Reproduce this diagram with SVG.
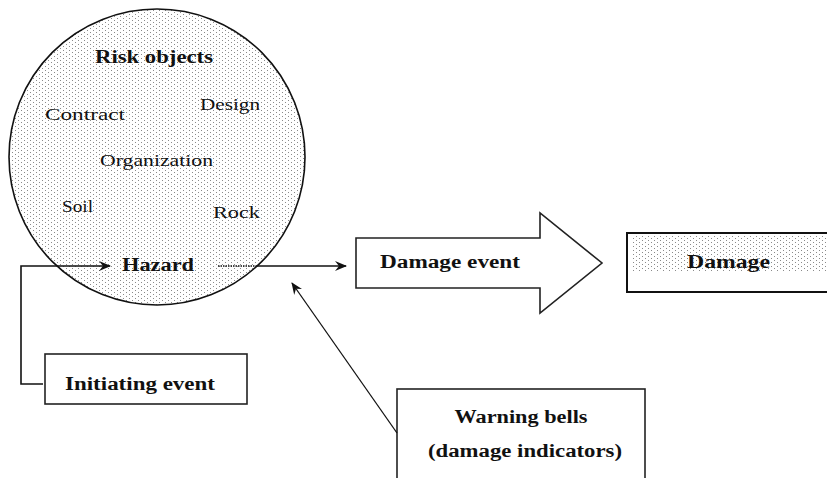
<svg xmlns="http://www.w3.org/2000/svg" width="827" height="478" viewBox="0 0 827 478">
  <style>
    text { font-family: "Liberation Serif", "DejaVu Serif", serif; fill: #111; }
    .b { font-weight: bold; }
    .box { fill: #fff; stroke: #222; stroke-width: 1.6; }
    .wire { fill: none; stroke: #111; stroke-width: 1.6; }
    .thin { fill: none; stroke: #111; stroke-width: 1.3; }
  </style>
  <defs>
    <pattern id="stipple" width="6" height="4" patternUnits="userSpaceOnUse">
      <rect width="6" height="4" fill="#fff"/>
      <rect x="0" y="0" width="1" height="1" fill="#8a8a8a"/>
      <rect x="3" y="2" width="1" height="1" fill="#8a8a8a"/>
    </pattern>
    <marker id="head" viewBox="0 0 12 10" refX="11" refY="5" markerWidth="12" markerHeight="10" markerUnits="userSpaceOnUse" orient="auto">
      <path d="M0,0 L12,5 L0,10 L4,5 Z" fill="#111"/>
    </marker>
  </defs>

  <!-- risk object cloud -->
  <g id="risk-objects">
    <circle cx="157" cy="157" r="148" fill="url(#stipple)" stroke="#111" stroke-width="1.6"/>
    <text class="b" x="95" y="63" font-size="18" textLength="118" lengthAdjust="spacingAndGlyphs">Risk objects</text>
    <text x="45" y="120" font-size="17" textLength="80" lengthAdjust="spacingAndGlyphs">Contract</text>
    <text x="200" y="110" font-size="17" textLength="60" lengthAdjust="spacingAndGlyphs">Design</text>
    <text x="100" y="166" font-size="17" textLength="113" lengthAdjust="spacingAndGlyphs">Organization</text>
    <text x="62" y="212" font-size="17" textLength="31" lengthAdjust="spacingAndGlyphs">Soil</text>
    <text x="213" y="218" font-size="17" textLength="47" lengthAdjust="spacingAndGlyphs">Rock</text>
  </g>

  <g id="hazard">
    <text class="b" x="122" y="271" font-size="18" textLength="72" lengthAdjust="spacingAndGlyphs">Hazard</text>
  </g>

  <g id="initiating-event">
    <rect class="box" x="45" y="354" width="202" height="50"/>
    <text class="b" x="65" y="390" font-size="18" textLength="150" lengthAdjust="spacingAndGlyphs">Initiating event</text>
  </g>

  <g id="damage-event">
    <path class="box" d="M356,238 L540,238 L540,213 L602,263 L540,313 L540,288 L356,288 Z"/>
    <text class="b" x="380" y="268" font-size="18" textLength="140" lengthAdjust="spacingAndGlyphs">Damage event</text>
  </g>

  <g id="damage">
    <rect x="627" y="233" width="210" height="59" fill="#fff" stroke="#111" stroke-width="2"/>
    <rect x="632" y="236" width="200" height="36" fill="url(#stipple)"/>
    <text class="b" x="687" y="268" font-size="18" textLength="83" lengthAdjust="spacingAndGlyphs">Damage</text>
  </g>

  <g id="warning-bells">
    <rect class="box" x="397" y="389" width="248" height="100"/>
    <text class="b" x="521" y="423" font-size="18" text-anchor="middle" textLength="133" lengthAdjust="spacingAndGlyphs">Warning bells</text>
    <text class="b" x="525" y="457" font-size="18" text-anchor="middle" textLength="194" lengthAdjust="spacingAndGlyphs">(damage indicators)</text>
  </g>

  <g id="connectors">
    <!-- initiating event into hazard -->
    <path class="wire" d="M43,384 L21,384 L21,266 L110,266" marker-end="url(#head)"/>
    <!-- hazard onward to damage event -->
    <path class="wire" d="M218,266 L256,266" stroke-dasharray="1.5 1"/>
    <path class="wire" d="M256,266 L346,266" marker-end="url(#head)"/>
    <!-- warning bells pointing at the hazard path -->
    <path class="thin" d="M397,433 L292,283" marker-end="url(#head)"/>
  </g>
</svg>
